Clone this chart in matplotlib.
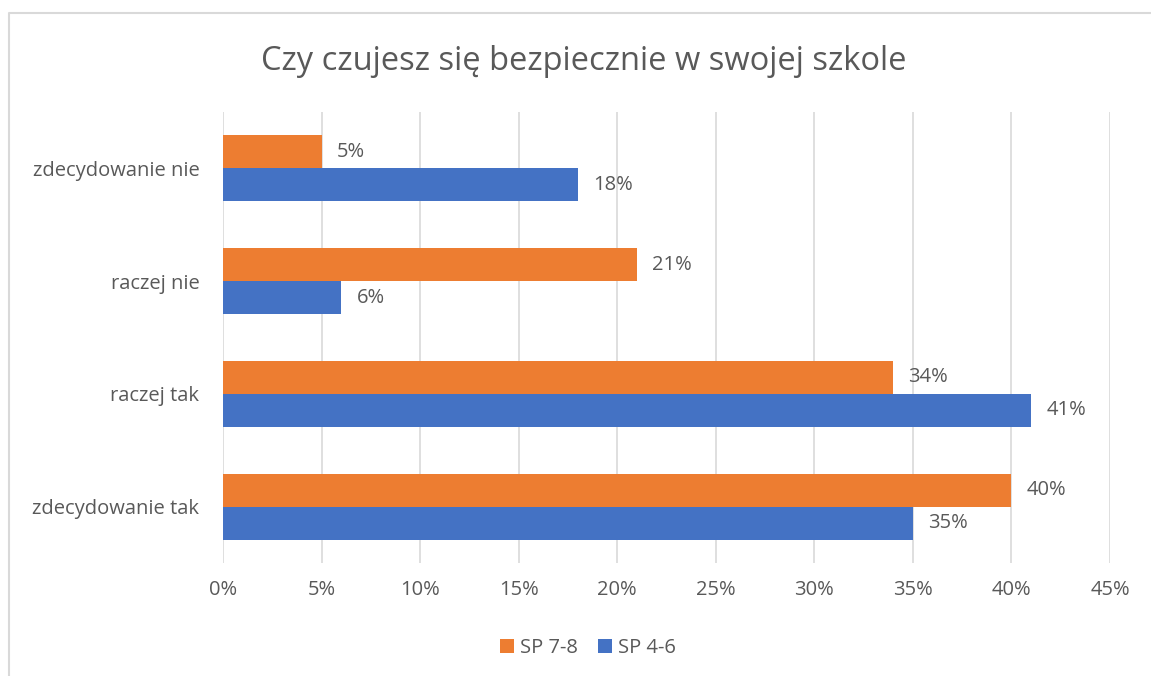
import matplotlib.pyplot as plt
from matplotlib.lines import Line2D

categories = ["zdecydowanie tak", "raczej tak", "raczej nie", "zdecydowanie nie"]
sp78 = [40, 34, 21, 5]
sp46 = [35, 41, 6, 18]
series_names = ["SP 7-8", "SP 4-6"]
ticks = [0, 5, 10, 15, 20, 25, 30, 35, 40, 45]

orange = "#ed7d31"
blue = "#4472c4"
txt = "#595959"

plt.rcParams['font.family'] = ['Open Sans', 'DejaVu Sans']

W, H = 1151, 676
fig = plt.figure(figsize=(W / 100, H / 100), dpi=100)
ax = fig.add_axes([223 / W, 1 - 563 / H, (1110 - 223) / W, (563 - 112) / H])

# chart frame (only left and top edges are inside the crop)
fx, fy = 8.5 / W, 1 - 13 / H
fig.add_artist(Line2D([fx, fx, 1.0], [0.0, fy, fy], transform=fig.transFigure,
                      color="#d9d9d9", linewidth=1.5))

h = 0.293
y = list(range(len(categories)))
b1 = ax.barh([i + h / 2 for i in y], sp78, height=h, color=orange, label=series_names[0])
b2 = ax.barh([i - h / 2 for i in y], sp46, height=h, color=blue, label=series_names[1])

for bars, vals in ((b1, sp78), (b2, sp46)):
    for bar, v in zip(bars, vals):
        ax.annotate(f"{v}%", (bar.get_width(), bar.get_y() + bar.get_height() / 2),
                    xytext=(11, 0), textcoords="offset points", va="center", ha="left",
                    fontsize=14.5, color=txt)

ax.set_xlim(0, 45)
ax.set_ylim(-0.5, len(categories) - 0.5)
ax.set_xticks(ticks)
ax.set_xticklabels([f"{t}%" for t in ticks], fontsize=14.5, color=txt)
ax.set_yticks(y)
ax.set_yticklabels(categories, fontsize=14.5, color=txt)
ax.tick_params(axis="both", length=0)
ax.tick_params(axis="x", pad=12)
ax.tick_params(axis="y", pad=17)
ax.xaxis.grid(True, color="#d9d9d9", linewidth=1.2)
ax.set_axisbelow(True)
for s in ax.spines.values():
    s.set_visible(False)

fig.text(584 / W, 1 - 61 / H, "Czy czujesz się bezpiecznie w swojej szkole",
         ha="center", va="center", fontsize=23.5, color=txt)

fig.legend(handles=[b1, b2], loc="center", bbox_to_anchor=(588 / W, 1 - 648 / H), ncol=2,
           frameon=False, fontsize=14.5, labelcolor=txt, handlelength=0.7, handleheight=0.7,
           handletextpad=0.3, columnspacing=1.0)

fig.savefig("out.png", dpi=100)
